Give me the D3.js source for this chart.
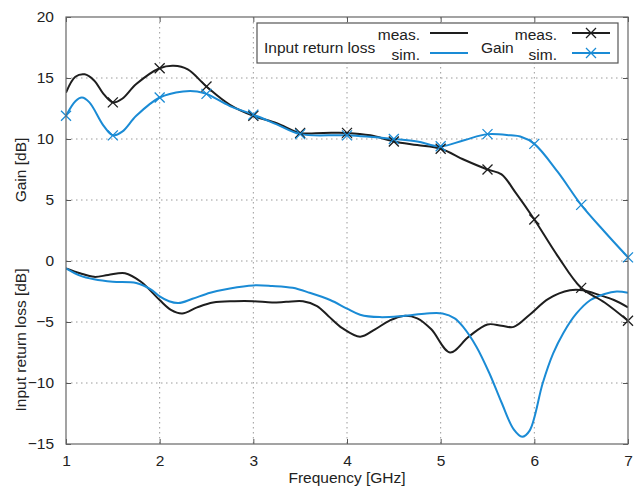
<!DOCTYPE html>
<html>
<head>
<meta charset="utf-8">
<script src="https://cdn.jsdelivr.net/npm/d3@7"></script>
<style>
  body { margin: 0; background: #fff; }
  svg { font-family: "Liberation Sans", Arial, sans-serif; }
</style>
</head>
<body>
<div id="chart"></div>
<script>
// frequency ticks and y ticks
var xTicks = [1, 2, 3, 4, 5, 6, 7];
var yTicks = [-15, -10, -5, 0, 5, 10, 15, 20];

// input return loss, measured
var rlMeasFreq = [1.0, 1.15, 1.3, 1.45, 1.63, 1.8, 2.0, 2.12, 2.24, 2.4, 2.57, 2.8, 3.0, 3.2, 3.35, 3.53, 3.68, 3.8, 3.95, 4.14, 4.3, 4.45, 4.6, 4.75, 4.9, 5.1, 5.3, 5.5, 5.65, 5.78, 5.95, 6.15, 6.38, 6.52, 6.7, 6.85, 7.0];
var rlMeas = [-0.6, -1.0, -1.3, -1.15, -1.0, -1.7, -3.2, -4.0, -4.3, -3.8, -3.4, -3.3, -3.3, -3.4, -3.35, -3.3, -3.7, -4.5, -5.5, -6.2, -5.6, -4.9, -4.5, -4.7, -5.6, -7.5, -6.2, -5.2, -5.3, -5.4, -4.4, -3.1, -2.4, -2.4, -2.8, -3.2, -3.8];

// input return loss, simulated
var rlSimFreq = [1.0, 1.15, 1.3, 1.5, 1.75, 1.9, 2.0, 2.1, 2.2, 2.35, 2.54, 2.75, 3.0, 3.2, 3.42, 3.6, 3.82, 4.0, 4.14, 4.35, 4.6, 4.85, 5.02, 5.15, 5.24, 5.38, 5.52, 5.65, 5.78, 5.87, 5.95, 6.09, 6.2, 6.31, 6.45, 6.6, 6.75, 6.88, 7.0];
var rlSim = [-0.6, -1.2, -1.5, -1.7, -1.8, -2.3, -2.9, -3.3, -3.45, -3.1, -2.6, -2.25, -2.0, -2.05, -2.2, -2.6, -3.2, -3.9, -4.4, -4.6, -4.5, -4.3, -4.3, -4.7, -5.4, -7.0, -9.2, -11.6, -13.8, -14.4, -13.9, -10.0, -7.6, -5.9, -4.3, -3.2, -2.7, -2.5, -2.6];

// gain, measured
var gainMeasFreq = [1.0, 1.1, 1.2, 1.3, 1.4, 1.5, 1.6, 1.75, 2.0, 2.15, 2.3, 2.5, 2.75, 3.0, 3.25, 3.5, 3.75, 4.0, 4.25, 4.5, 4.75, 5.0, 5.25, 5.5, 5.65, 5.8, 6.0, 6.25, 6.5, 6.75, 7.0];
var gainMeas = [13.8, 15.1, 15.3, 14.8, 13.7, 13.0, 13.3, 14.5, 15.8, 16.0, 15.7, 14.3, 12.8, 11.9, 11.3, 10.5, 10.5, 10.5, 10.3, 9.8, 9.5, 9.2, 8.3, 7.5, 7.1, 5.6, 3.4, 0.4, -2.2, -3.4, -4.9];

// gain, simulated
var gainSimFreq = [1.0, 1.1, 1.17, 1.25, 1.4, 1.5, 1.6, 1.75, 2.0, 2.25, 2.4, 2.5, 2.75, 3.0, 3.25, 3.5, 4.0, 4.5, 4.75, 5.0, 5.25, 5.5, 5.75, 5.85, 6.0, 6.25, 6.5, 6.75, 7.0];
var gainSim = [11.9, 13.1, 13.4, 13.0, 11.1, 10.3, 10.6, 11.9, 13.4, 13.9, 13.9, 13.7, 12.7, 12.0, 11.2, 10.4, 10.3, 10.0, 9.8, 9.4, 9.9, 10.4, 10.3, 10.2, 9.6, 7.3, 4.6, 2.4, 0.3];

// frequencies with markers
var gainMeasMarks = [1.5, 2, 2.5, 3, 3.5, 4, 4.5, 5, 5.5, 6, 6.5, 7];
var gainSimMarks = [1, 1.5, 2, 2.5, 3, 3.5, 4, 4.5, 5, 5.5, 6, 6.5, 7];

var black = "#1e1e1e";
var blue = "#1a8bd5";

function pairs(fs, vs) {
  return fs.map(function (f, i) { return { f: f, v: vs[i] }; });
}

var width = 636, height = 488;
var margin = { top: 17, right: 8, bottom: 44, left: 66 };
var w = width - margin.left - margin.right;
var h = height - margin.top - margin.bottom;
var fs = 15.5;

var x = d3.scaleLinear().domain([1, 7]).range([0, w]);
var y = d3.scaleLinear().domain([-15, 20]).range([h, 0]);

var svg = d3.select("#chart").append("svg")
    .attr("width", width)
    .attr("height", height);

var plot = svg.append("g")
    .attr("transform", "translate(" + margin.left + "," + margin.top + ")");

plot.append("defs").append("clipPath").attr("id", "clip")
  .append("rect").attr("width", w).attr("height", h);

// grid
plot.append("g").selectAll("line").data(xTicks.slice(1, -1)).enter()
  .append("line")
    .attr("x1", function (d) { return x(d); })
    .attr("x2", function (d) { return x(d); })
    .attr("y1", 0).attr("y2", h)
    .attr("stroke", "#9a9a9a").attr("stroke-width", 1)
    .attr("stroke-dasharray", "1.5,3.5");

plot.append("g").selectAll("line").data(yTicks.slice(1, -1)).enter()
  .append("line")
    .attr("y1", function (d) { return y(d); })
    .attr("y2", function (d) { return y(d); })
    .attr("x1", 0).attr("x2", w)
    .attr("stroke", "#9a9a9a").attr("stroke-width", 1)
    .attr("stroke-dasharray", "1.5,3.5");

// axes, ticks inward on all sides
var axisStyle = function (g) {
  g.select(".domain").remove();
  g.selectAll(".tick line").attr("stroke", "#555");
  g.selectAll(".tick text").attr("font-size", fs).attr("fill", "#222")
    .attr("font-family", "Liberation Sans, Arial, sans-serif");
};

plot.append("g")
    .attr("transform", "translate(0," + h + ")")
    .call(d3.axisBottom(x).tickValues(xTicks).tickSize(-5).tickPadding(11).tickFormat(d3.format("d")))
    .call(axisStyle);

plot.append("g")
    .call(d3.axisTop(x).tickValues(xTicks).tickSize(-5).tickFormat(""))
    .call(axisStyle);

plot.append("g")
    .call(d3.axisLeft(y).tickValues(yTicks).tickSize(-5).tickPadding(12).tickFormat(d3.format("d")))
    .call(axisStyle);

plot.append("g")
    .attr("transform", "translate(" + w + ",0)")
    .call(d3.axisRight(y).tickValues(yTicks).tickSize(-5).tickFormat(""))
    .call(axisStyle);

// curves
var line = d3.line()
    .x(function (d) { return x(d.f); })
    .y(function (d) { return y(d.v); })
    .curve(d3.curveCatmullRom.alpha(0.5));

var curves = plot.append("g").attr("clip-path", "url(#clip)");

var series = [
  { data: pairs(rlMeasFreq, rlMeas), color: black, marks: [] },
  { data: pairs(rlSimFreq, rlSim), color: blue, marks: [] },
  { data: pairs(gainMeasFreq, gainMeas), color: black, marks: gainMeasMarks },
  { data: pairs(gainSimFreq, gainSim), color: blue, marks: gainSimMarks }
];

function cross(g, cx, cy, color) {
  var s = 5;
  g.append("path")
      .attr("d", "M" + (cx - s) + "," + (cy - s) + "L" + (cx + s) + "," + (cy + s) +
                 "M" + (cx - s) + "," + (cy + s) + "L" + (cx + s) + "," + (cy - s))
      .attr("stroke", color).attr("stroke-width", 1.3).attr("fill", "none");
}

series.forEach(function (s) {
  curves.append("path")
      .datum(s.data)
      .attr("d", line)
      .attr("fill", "none")
      .attr("stroke", s.color)
      .attr("stroke-width", 2);
  s.data.forEach(function (d) {
    if (s.marks.indexOf(d.f) >= 0) cross(plot, x(d.f), y(d.v), s.color);
  });
});

// frame
plot.append("rect")
    .attr("width", w).attr("height", h)
    .attr("fill", "none").attr("stroke", "#666").attr("stroke-width", 1.2);

// legend
var lg = svg.append("g");
lg.append("rect")
    .attr("x", 257).attr("y", 23).attr("width", 361).attr("height", 40)
    .attr("fill", "#fff").attr("stroke", "#555").attr("stroke-width", 1.2);

lg.append("text").attr("x", 264).attr("y", 53).attr("font-size", fs).attr("fill", "#222").text("Input return loss");
lg.append("text").attr("x", 420).attr("y", 40).attr("font-size", fs).attr("fill", "#222").attr("text-anchor", "end").text("meas.");
lg.append("text").attr("x", 420).attr("y", 60).attr("font-size", fs).attr("fill", "#222").attr("text-anchor", "end").text("sim.");
lg.append("line").attr("x1", 430).attr("x2", 468).attr("y1", 33).attr("y2", 33).attr("stroke", black).attr("stroke-width", 2);
lg.append("line").attr("x1", 430).attr("x2", 468).attr("y1", 53).attr("y2", 53).attr("stroke", blue).attr("stroke-width", 2);

lg.append("text").attr("x", 481).attr("y", 53).attr("font-size", fs).attr("fill", "#222").text("Gain");
lg.append("text").attr("x", 557).attr("y", 40).attr("font-size", fs).attr("fill", "#222").attr("text-anchor", "end").text("meas.");
lg.append("text").attr("x", 557).attr("y", 60).attr("font-size", fs).attr("fill", "#222").attr("text-anchor", "end").text("sim.");
lg.append("line").attr("x1", 572).attr("x2", 610).attr("y1", 33).attr("y2", 33).attr("stroke", black).attr("stroke-width", 2);
lg.append("line").attr("x1", 572).attr("x2", 610).attr("y1", 53).attr("y2", 53).attr("stroke", blue).attr("stroke-width", 2);
cross(lg, 591, 33, black);
cross(lg, 591, 53, blue);

// axis titles
svg.append("text")
    .attr("x", margin.left + w / 2).attr("y", 483)
    .attr("text-anchor", "middle").attr("font-size", fs).attr("fill", "#222")
    .text("Frequency [GHz]");

svg.append("text")
    .attr("transform", "translate(26,170) rotate(-90)")
    .attr("text-anchor", "middle").attr("font-size", fs).attr("fill", "#222")
    .text("Gain [dB]");

svg.append("text")
    .attr("transform", "translate(26,340) rotate(-90)")
    .attr("text-anchor", "middle").attr("font-size", fs).attr("fill", "#222")
    .text("Input return loss [dB]");
</script>
</body>
</html>
